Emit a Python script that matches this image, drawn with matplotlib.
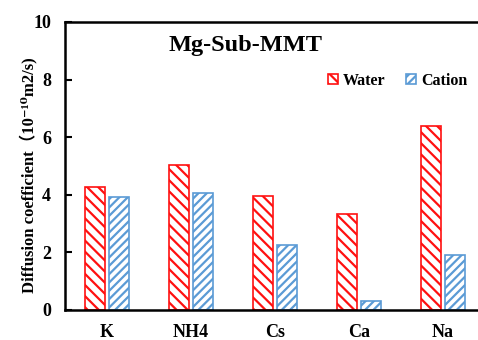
import matplotlib.pyplot as plt
import numpy as np

ions = ['K', 'NH4', 'Cs', 'Ca', 'Na']
water = [4.27, 5.03, 3.96, 3.33, 6.40]
cation = [3.92, 4.06, 2.26, 0.32, 1.90]

plt.rcParams['font.family'] = ['Liberation Serif', 'DejaVu Serif', 'Noto Sans CJK SC']
plt.rcParams['font.weight'] = 'bold'
plt.rcParams['hatch.linewidth'] = 1.6

fig = plt.figure(figsize=(4.78, 3.40), dpi=100)
ax = fig.add_axes([65 / 478, 30 / 340, 420 / 478, 288 / 340])

x = np.arange(len(ions))
w = 0.24
ax.bar(x - 0.143, water, w, facecolor='white', edgecolor='#ff1010',
       hatch='\\\\\\', linewidth=1.2, label='Water')
ax.bar(x + 0.143, cation, w, facecolor='white', edgecolor='#5b9bd5',
       hatch='////', linewidth=1.2, label='Cation')

ax.set_xlim(-0.5, 4.5)
ax.set_ylim(0, 10)
ax.set_yticks([0, 2, 4, 6, 8, 10])
ax.set_xticks(x)
ax.set_xticklabels(ions)
ax.tick_params(axis='y', direction='in', length=5, width=1.5, labelsize=13, pad=10)
ax.tick_params(axis='x', length=0, labelsize=13, pad=10)
for s in ax.spines.values():
    s.set_linewidth(1.8)

fig.text(28 / 478, 1 - 175 / 340, 'Diffusion coefficient（10⁻¹⁰m2/s)', rotation=90,
         ha='center', va='center', fontsize=12, fontweight='bold')
ax.text(0.431, 0.92, 'Mg-Sub-MMT', transform=ax.transAxes, ha='center', va='center',
        fontsize=17.5, fontweight='bold')
ax.legend(loc='center left', bbox_to_anchor=(0.626, 0.795), ncol=2, frameon=False,
          prop={'size': 11.5, 'weight': 'bold'}, handlelength=0.6, handleheight=0.6,
          handletextpad=0.35, columnspacing=1.3, borderaxespad=0, borderpad=0)

fig.savefig('out.png', dpi=100)
